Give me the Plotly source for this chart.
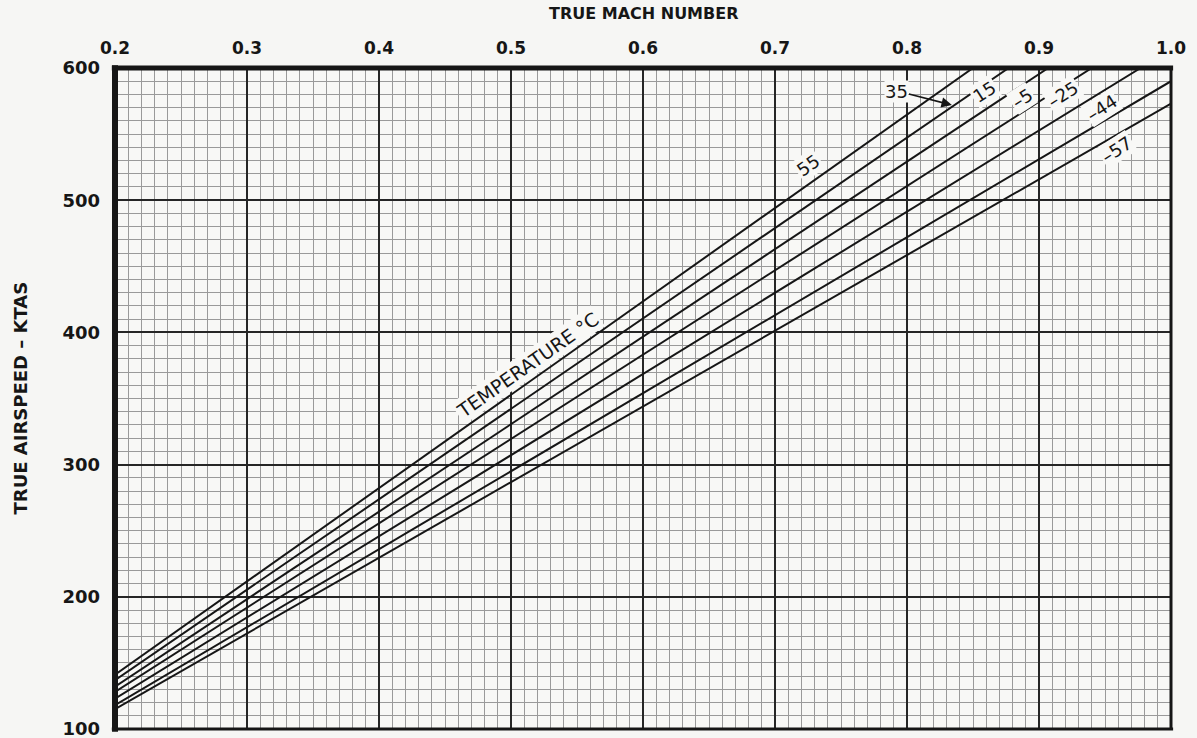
import plotly.graph_objects as go

# Outside air temperature of each line (deg C)
temps = [55, 35, 15, -5, -25, -44, -57]
temp_labels = ["55", "35", "15", "–5", "–25", "–44", "–57"]

# Each line is straight: true airspeed at Mach 0.2 and at the line's end point
mach_start = [0.2, 0.2, 0.2, 0.2, 0.2, 0.2, 0.2]
tas_start = [141, 137, 132, 128, 123, 118, 115]
mach_end = [0.85, 0.877, 0.907, 0.94, 0.977, 1.0, 1.0]
tas_end = [600, 600, 600, 600, 600, 590, 573]

# Axis scales and grid spacing
mach_range = [0.2, 1.0]
mach_step = 0.1
mach_fine_step = 0.01
tas_range = [100, 600]
tas_step = 100
tas_fine_step = 10

# Label anchor points (Mach, KTAS) for the temperature tags
label_mach = [0.725, 0.834, 0.859, 0.887, 0.918, 0.948, 0.959]
label_tas = [526, 572, 582, 577, 580, 570, 538]

FONT = "DejaVu Sans"
INK = "#161616"
BG = "#f8f8f6"

fig = go.Figure()

for t, m0, v0, m1, v1 in zip(temps, mach_start, tas_start, mach_end, tas_end):
    fig.add_trace(go.Scatter(
        x=[m0, m1], y=[v0, v1], mode="lines",
        line=dict(color=INK, width=2),
        name=f"{t} °C", showlegend=False, hoverinfo="skip",
    ))

# empty trace that brings up the overlaid axes carrying the heavy grid and tick labels
fig.add_trace(go.Scatter(x=[], y=[], xaxis="x2", yaxis="y2",
                         showlegend=False, hoverinfo="skip"))

annotations = []
for txt, mx, vy in zip(temp_labels, label_mach, label_tas):
    if txt == "35":
        # tag sits off the line with a pointer to it
        annotations.append(dict(
            x=mx, y=vy, xref="x", yref="y", text=txt,
            showarrow=True, arrowhead=2, arrowsize=1.3, arrowwidth=1.6,
            arrowcolor=INK, ax=-55, ay=-14, standoff=0,
            font=dict(family=FONT, size=18, color=INK),
            bgcolor=BG, borderpad=0,
        ))
    else:
        ang = -35 if txt == "55" else -33
        annotations.append(dict(
            x=mx, y=vy, xref="x", yref="y", text=txt, showarrow=False,
            textangle=ang, font=dict(family=FONT, size=18, color=INK),
            bgcolor=BG, borderpad=1,
        ))

annotations.append(dict(
    x=0.5126, y=375, xref="x", yref="y", text="TEMPERATURE °C",
    showarrow=False, textangle=-35,
    font=dict(family=FONT, size=19, color=INK),
    bgcolor=BG, borderpad=1,
))

# Axis titles
annotations.append(dict(
    x=0.5, y=1, xref="paper", yref="paper", yanchor="middle", yshift=55,
    text="TRUE MACH NUMBER", showarrow=False,
    font=dict(family=FONT, size=16, color=INK, weight="bold"),
))
annotations.append(dict(
    x=0, y=0.5, xref="paper", yref="paper", xanchor="center", yanchor="middle",
    xshift=-95, text="TRUE AIRSPEED – KTAS", textangle=-90, showarrow=False,
    font=dict(family=FONT, size=18, color=INK, weight="bold"),
))

# Heavy frame round the grid
frame = [
    dict(x0=0, x1=0, y0=-0.004, y1=1.004, w=6),
    dict(x0=-0.003, x1=1.002, y0=1, y1=1, w=5),
    dict(x0=1, x1=1, y0=0, y1=1, w=3),
    dict(x0=-0.003, x1=1.002, y0=0, y1=0, w=3),
]
shapes = [dict(type="line", xref="paper", yref="paper",
               x0=f["x0"], x1=f["x1"], y0=f["y0"], y1=f["y1"],
               line=dict(color=INK, width=f["w"]), layer="above")
          for f in frame]

fine_grid = dict(showgrid=True, gridcolor="#9a9a9a", gridwidth=1.4,
                 zeroline=False, showline=False, ticks="",
                 showticklabels=False, automargin=False)
heavy_grid = dict(showgrid=True, gridcolor="#262626", gridwidth=1.8,
                  zeroline=False, showline=False, ticks="",
                  ticklabeloverflow="allow", automargin=False)

fig.update_layout(
    width=1197, height=738,
    margin=dict(l=115, r=26, t=68, b=9),
    paper_bgcolor="#f6f6f4", plot_bgcolor=BG,
    annotations=annotations, shapes=shapes,
    showlegend=False,
    # fine 0.01 Mach / 10 kt ruling
    xaxis=dict(range=mach_range, tickmode="linear", tick0=mach_range[0],
               dtick=mach_fine_step, **fine_grid),
    yaxis=dict(range=tas_range, tickmode="linear", tick0=tas_range[0],
               dtick=tas_fine_step, **fine_grid),
    # heavy 0.1 Mach / 100 kt ruling with the tick labels
    xaxis2=dict(range=mach_range, overlaying="x", anchor="y2", side="top",
                tickmode="linear", tick0=mach_range[0], dtick=mach_step,
                tickformat=".1f", ticklabelstandoff=10,
                tickfont=dict(family=FONT, size=17, color=INK, weight="bold"),
                **heavy_grid),
    yaxis2=dict(range=tas_range, overlaying="y", anchor="x2", side="left",
                tickmode="linear", tick0=tas_range[0], dtick=tas_step,
                ticklabelstandoff=14,
                tickfont=dict(family=FONT, size=18, color=INK, weight="bold"),
                **heavy_grid),
)

fig.write_html("out.html")
